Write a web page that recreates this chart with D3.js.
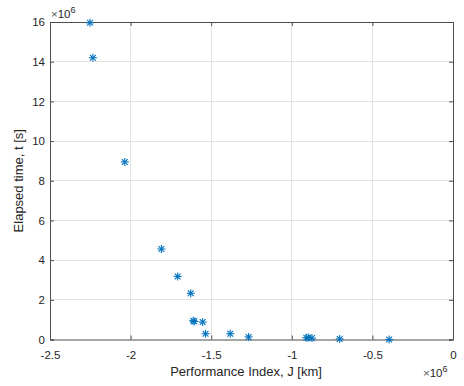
<!DOCTYPE html>
<html>
<head>
<meta charset="utf-8">
<script src="https://cdn.jsdelivr.net/npm/d3@7"></script>
<style>
  body { margin: 0; background: #fff; }
  svg { display: block; }
  text { font-family: "Liberation Sans", Arial, Helvetica, sans-serif; }
</style>
</head>
<body>
<svg id="chart" width="464" height="386"></svg>
<script>
// Performance index J (x10^6 km) and elapsed time t (x10^6 s)
const perfIndex = [-2.252, -2.234, -2.036, -1.809, -1.708, -1.627, -1.612, -1.605, -1.553, -1.535, -1.382, -1.268, -0.910, -0.898, -0.875, -0.703, -0.396];
const elapsedTime = [15.96, 14.20, 8.95, 4.56, 3.18, 2.33, 0.95, 0.91, 0.88, 0.29, 0.29, 0.13, 0.09, 0.10, 0.07, 0.03, 0.00];
const xTicks = [-2.5, -2, -1.5, -1, -0.5, 0];
const yTicks = [0, 2, 4, 6, 8, 10, 12, 14, 16];
const xTickLabels = ["-2.5", "-2", "-1.5", "-1", "-0.5", "0"];
const yTickLabels = ["0", "2", "4", "6", "8", "10", "12", "14", "16"];

const svg = d3.select("#chart");
const plotLeft = 50, plotRight = 453, plotTop = 22, plotBottom = 339.5;

const x = d3.scaleLinear().domain([-2.5, 0]).range([plotLeft, plotRight]);
const y = d3.scaleLinear().domain([0, 16]).range([plotBottom, plotTop]);

const axisColor = "#4d4d4d";
const textColor = "#262626";
const gridColor = "#e3e3e3";

// grid
const grid = svg.append("g");
grid.selectAll(".gx").data(xTicks.slice(1, -1)).join("line")
  .attr("x1", d => x(d)).attr("x2", d => x(d))
  .attr("y1", plotTop).attr("y2", plotBottom)
  .attr("stroke", gridColor).attr("stroke-width", 1).attr("shape-rendering", "crispEdges");
grid.selectAll(".gy").data(yTicks.slice(1, -1)).join("line")
  .attr("x1", plotLeft).attr("x2", plotRight)
  .attr("y1", d => y(d)).attr("y2", d => y(d))
  .attr("stroke", gridColor).attr("stroke-width", 1).attr("shape-rendering", "crispEdges");

// axes with inward ticks
const xAxis = d3.axisBottom(x).tickValues(xTicks).tickSize(-4).tickPadding(11)
  .tickFormat((d, i) => xTickLabels[i]);
const yAxis = d3.axisLeft(y).tickValues(yTicks).tickSize(-4).tickPadding(5)
  .tickFormat((d, i) => yTickLabels[i]);
const xTop = d3.axisTop(x).tickValues(xTicks).tickSize(-4).tickFormat("");
const yRight = d3.axisRight(y).tickValues(yTicks).tickSize(-4).tickFormat("");

function styleAxis(g) {
  g.select(".domain").attr("stroke", axisColor).attr("stroke-width", 1);
  g.selectAll(".tick line").attr("stroke", axisColor);
  g.selectAll(".tick text").attr("fill", textColor).attr("font-size", 11.5)
    .attr("font-family", "'Liberation Sans', Arial, sans-serif");
}
svg.append("g").attr("transform", `translate(0,${plotBottom})`).call(xAxis).call(styleAxis);
svg.append("g").attr("transform", `translate(${plotLeft},0)`).call(yAxis).call(styleAxis);
svg.append("g").attr("transform", `translate(0,${plotTop})`).call(xTop).call(styleAxis);
svg.append("g").attr("transform", `translate(${plotRight},0)`).call(yRight).call(styleAxis);

// asterisk markers
const r = 4;
const markers = svg.append("g");
perfIndex.forEach((px, i) => {
  const cx = x(px), cy = y(elapsedTime[i]);
  const g = markers.append("g").attr("transform", `translate(${cx},${cy})`)
    .attr("stroke", "#0072BD").attr("stroke-width", 1.1);
  g.append("line").attr("x1", -r).attr("x2", r).attr("y1", 0).attr("y2", 0);
  g.append("line").attr("x1", 0).attr("x2", 0).attr("y1", -r).attr("y2", r);
  g.append("line").attr("x1", -r * 0.72).attr("x2", r * 0.72).attr("y1", -r * 0.72).attr("y2", r * 0.72);
  g.append("line").attr("x1", -r * 0.72).attr("x2", r * 0.72).attr("y1", r * 0.72).attr("y2", -r * 0.72);
});

// axis labels
svg.append("text").attr("x", 246).attr("y", 376)
  .attr("text-anchor", "middle").attr("font-size", 13).attr("fill", textColor)
  .text("Performance Index, J [km]");
svg.append("text").attr("transform", `translate(23,${(plotTop + plotBottom) / 2}) rotate(-90)`)
  .attr("text-anchor", "middle").attr("font-size", 13).attr("fill", textColor)
  .text("Elapsed time, t [s]");

// exponent labels
function exponent(xp, yp) {
  const t = svg.append("text").attr("x", xp).attr("y", yp).attr("font-size", 11.5).attr("fill", "#555");
  t.append("tspan").text("\u00d7");
  t.append("tspan").attr("fill", textColor).text("10");
  t.append("tspan").attr("dy", -5).attr("font-size", 9).attr("fill", textColor).text("6");
}
exponent(51, 18);
exponent(423, 377);
</script>
</body>
</html>
